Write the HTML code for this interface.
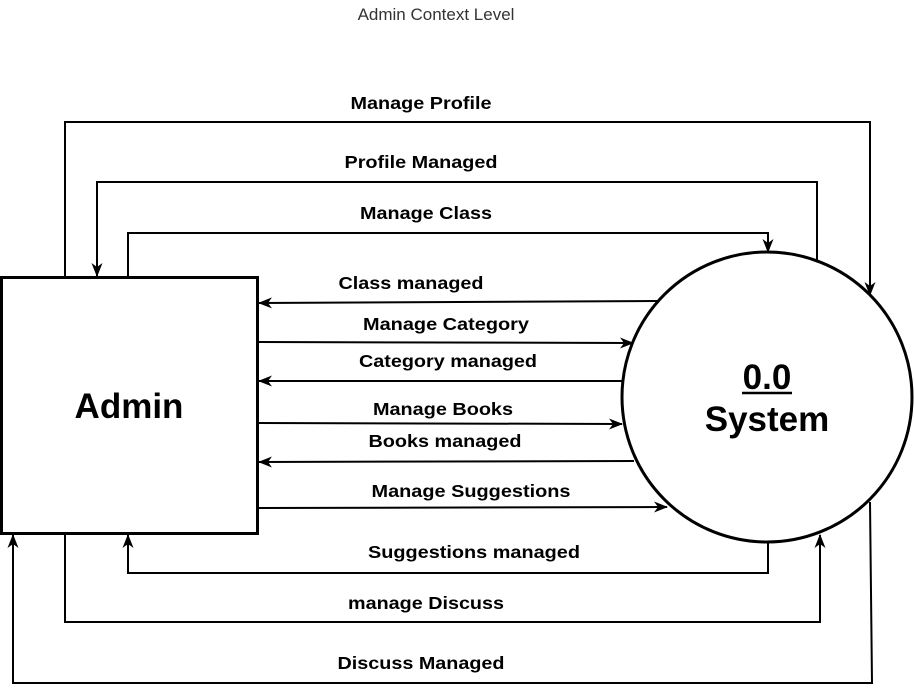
<!DOCTYPE html>
<html><head><meta charset="utf-8"><style>
html,body{margin:0;padding:0;background:#fff;}
svg{display:block;}
text{font-family:"Liberation Sans",Arial,sans-serif;}
.l{font-weight:bold;font-size:17.5px;fill:#000;}
</style></head><body>
<svg width="914" height="692" viewBox="0 0 914 692" xmlns="http://www.w3.org/2000/svg">
<defs>
<marker id="a" markerWidth="14" markerHeight="14" refX="13" refY="7" orient="auto" markerUnits="userSpaceOnUse">
<path d="M0,1.5 L14,7 L0,12.5 L4,7 Z" fill="#000"/>
</marker>
</defs>
<text x="436" y="20" text-anchor="middle" font-size="17" fill="#333">Admin Context Level</text>
<g fill="none" stroke="#000" stroke-width="2">
<polyline points="65,277 65,122 870,122 870,295" marker-end="url(#a)"/>
<polyline points="817,262 817,182 97,182 97,276" marker-end="url(#a)"/>
<polyline points="128,277 128,233 768,233 768,252" marker-end="url(#a)"/>
<line x1="657" y1="301" x2="259" y2="303" marker-end="url(#a)"/>
<line x1="258" y1="342" x2="633" y2="343" marker-end="url(#a)"/>
<line x1="622" y1="381" x2="259" y2="381" marker-end="url(#a)"/>
<line x1="258" y1="423" x2="622" y2="424" marker-end="url(#a)"/>
<line x1="634" y1="461" x2="259" y2="462" marker-end="url(#a)"/>
<line x1="258" y1="508" x2="667" y2="507" marker-end="url(#a)"/>
<polyline points="768,542 768,573 128,573 128,535" marker-end="url(#a)"/>
<polyline points="65,534 65,622 820,622 820,535" marker-end="url(#a)"/>
<polyline points="870,502 872,683 13,683 13,535" marker-end="url(#a)"/>
</g>
<rect x="1.5" y="277.5" width="256" height="256" fill="#fff" stroke="#000" stroke-width="3"/>
<text x="129" y="418" text-anchor="middle" font-size="35" font-weight="bold">Admin</text>
<circle cx="767" cy="397" r="145" fill="#fff" stroke="#000" stroke-width="3"/>
<text x="767" y="389" text-anchor="middle" font-size="35" font-weight="bold">0.0</text>
<line x1="742" y1="393" x2="792" y2="393" stroke="#000" stroke-width="2.5"/>
<text x="767" y="431" text-anchor="middle" font-size="35" font-weight="bold">System</text>
<g class="l" text-anchor="middle">
<text class="l" x="421" y="109" textLength="141" lengthAdjust="spacingAndGlyphs">Manage Profile</text>
<text class="l" x="421" y="168" textLength="153" lengthAdjust="spacingAndGlyphs">Profile Managed</text>
<text class="l" x="426" y="219" textLength="132" lengthAdjust="spacingAndGlyphs">Manage Class</text>
<text class="l" x="411" y="289" textLength="145" lengthAdjust="spacingAndGlyphs">Class managed</text>
<text class="l" x="446" y="330" textLength="166" lengthAdjust="spacingAndGlyphs">Manage Category</text>
<text class="l" x="448" y="367" textLength="178" lengthAdjust="spacingAndGlyphs">Category managed</text>
<text class="l" x="443" y="415" textLength="140" lengthAdjust="spacingAndGlyphs">Manage Books</text>
<text class="l" x="445" y="447" textLength="153" lengthAdjust="spacingAndGlyphs">Books managed</text>
<text class="l" x="471" y="497" textLength="199" lengthAdjust="spacingAndGlyphs">Manage Suggestions</text>
<text class="l" x="474" y="558" textLength="212" lengthAdjust="spacingAndGlyphs">Suggestions managed</text>
<text class="l" x="426" y="609" textLength="156" lengthAdjust="spacingAndGlyphs">manage Discuss</text>
<text class="l" x="421" y="669" textLength="167" lengthAdjust="spacingAndGlyphs">Discuss Managed</text>
</g>
</svg>
</body></html>
